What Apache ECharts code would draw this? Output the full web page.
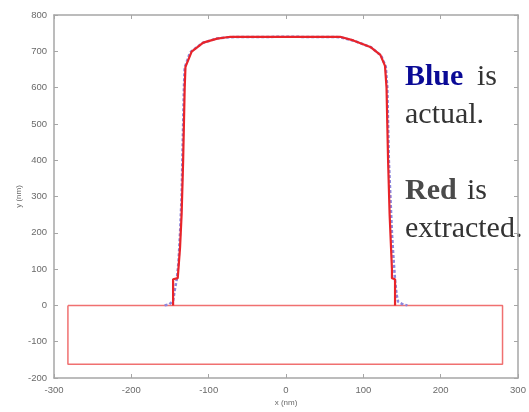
<!DOCTYPE html>
<html>
<head>
<meta charset="utf-8">
<script src="https://cdn.jsdelivr.net/npm/echarts@6/dist/echarts.min.js"></script>
<style>
  html, body { margin: 0; padding: 0; background: #fff; }
  #chart { width: 529px; height: 412px; }
</style>
</head>
<body>
<div id="chart"></div>
<script>
// Axis ranges and ticks (nm)
const xTicks = [-300, -200, -100, 0, 100, 200, 300];
const yTicks = [-200, -100, 0, 100, 200, 300, 400, 500, 600, 700, 800];

// Measured (actual) resist profile, x/y in nm
const actualX = [-157, -151, -146, -144, -141, -139, -137, -135, -134, -133, -132, -131, -124, -108, -90, -72, 0, 70, 88, 110, 123, 129, 131, 132, 133, 135, 137, 139, 141, 143, 145, 150, 157];
const actualY = [0, 3, 12, 40, 75, 120, 200, 300, 400, 500, 600, 655, 697, 723, 735, 739, 740, 739, 729, 711, 688, 658, 600, 500, 400, 300, 200, 130, 70, 30, 10, 4, 0];

// Extracted profile, x/y in nm
const extractedX = [-146, -146, -140, -137, -135, -133, -132, -131, -130, -122, -107, -89, -72, 0, 70, 87, 109, 122, 128, 130, 131, 132, 134, 137, 137, 141, 141];
const extractedY = [0, 72, 75, 160, 250, 400, 500, 600, 657, 699, 724, 735, 740, 740, 740, 730, 712, 690, 660, 600, 500, 400, 250, 100, 75, 72, 0];

// Substrate outline, x/y in nm
const substrateX = [-282, 280, 280, -282, -282];
const substrateY = [0, 0, -162, -162, 0];

const zip = (xs, ys) => xs.map((x, i) => [x, ys[i]]);

const axisColor = '#a6a6a6';
const labelStyle = { color: '#6a6a6a', fontSize: 9.5, fontFamily: 'Liberation Sans' };
const nameStyle = { color: '#6a6a6a', fontSize: 8, fontFamily: 'Liberation Sans' };

function frameAxis(extra) {
  return Object.assign({
    type: 'value', interval: 100,
    axisLine: { show: true, onZero: false, lineStyle: { color: axisColor, width: 1.5 } },
    axisTick: { show: true, inside: true, length: 4, lineStyle: { color: axisColor } },
    splitLine: { show: false }
  }, extra);
}

// Annotation text, positioned by its vertical middle
const serif = 'Liberation Serif';
function note(text, x, y, bold, color) {
  return {
    type: 'text', x: x, y: y, silent: true,
    style: {
      text: text, fontFamily: serif, fontSize: 30,
      fontWeight: bold ? 'bold' : 'normal', fill: color,
      verticalAlign: 'middle', align: 'left'
    }
  };
}

const chart = echarts.init(document.getElementById('chart'));
chart.setOption({
  backgroundColor: '#ffffff',
  animation: false,
  grid: { left: 54, right: 11, top: 15, bottom: 30 },
  xAxis: [
    frameAxis({
      min: xTicks[0], max: xTicks[xTicks.length - 1],
      axisLabel: Object.assign({ margin: 7 }, labelStyle),
      name: 'x (nm)', nameLocation: 'middle', nameGap: 21, nameMoveOverlap: false,
      nameTextStyle: nameStyle
    }),
    frameAxis({
      position: 'top', min: xTicks[0], max: xTicks[xTicks.length - 1],
      axisLabel: { show: false }
    })
  ],
  yAxis: [
    frameAxis({
      min: yTicks[0], max: yTicks[yTicks.length - 1],
      axisLabel: Object.assign({ margin: 7 }, labelStyle),
      name: 'y (nm)', nameLocation: 'middle', nameGap: 31, nameMoveOverlap: false,
      nameTextStyle: nameStyle
    }),
    frameAxis({
      position: 'right', min: yTicks[0], max: yTicks[yTicks.length - 1],
      axisLabel: { show: false }
    })
  ],
  series: [
    {
      name: 'substrate', type: 'line', showSymbol: false, silent: true,
      data: zip(substrateX, substrateY),
      lineStyle: { color: '#f07070', width: 1.5 }
    },
    {
      name: 'actual', type: 'line', showSymbol: false, silent: true,
      data: zip(actualX, actualY),
      lineStyle: { color: '#8c86dc', width: 2.5, type: [3, 2] }
    },
    {
      name: 'extracted', type: 'line', showSymbol: false, silent: true,
      data: zip(extractedX, extractedY),
      lineStyle: { color: '#e8242a', width: 2.2 }
    }
  ],
  graphic: [
    note('Blue', 405, 77, true, '#0a0a96'),
    note('is', 477, 77, false, '#333333'),
    note('actual.', 405, 115, false, '#333333'),
    note('Red', 405, 191, true, '#4a4a4a'),
    note('is', 467, 191, false, '#333333'),
    note('extracted.', 405, 229, false, '#333333')
  ]
});
</script>
</body>
</html>
